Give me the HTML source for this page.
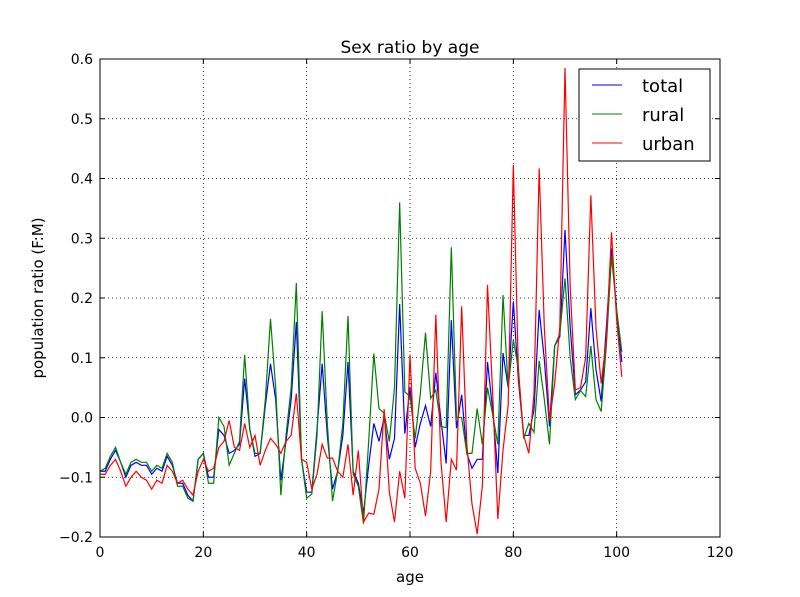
<!DOCTYPE html>
<html><head><meta charset="utf-8"><style>
body{margin:0;background:#fff}
svg{display:block;font-family:"DejaVu Sans","Liberation Sans",sans-serif}
</style></head><body>
<svg id="chart" width="800" height="597">
<rect width="800" height="597" fill="#fff"/>
<g id="grid"></g>
<g id="series"></g>
<rect x="100" y="59" width="620" height="478" fill="none" stroke="#000" stroke-width="1"/>
<g id="ticks"></g>
<text x="410" y="53" text-anchor="middle" font-size="17">Sex ratio by age</text>
<text x="410" y="582" text-anchor="middle" font-size="15">age</text>
<text transform="translate(43,298) rotate(-90)" text-anchor="middle" font-size="15">population ratio (F:M)</text>
<g>
<rect x="579" y="69" width="131" height="92" fill="#fff" stroke="#000"/>
<line x1="592" y1="85" x2="622" y2="85" stroke="blue"/>
<text x="642" y="92" font-size="18">total</text>
<line x1="592" y1="114" x2="622" y2="114" stroke="green"/>
<text x="642" y="121" font-size="18">rural</text>
<line x1="592" y1="143" x2="622" y2="143" stroke="red"/>
<text x="642" y="150" font-size="18">urban</text>
</g>
</svg>
<script>
const xTicks=[0,20,40,60,80,100,120];
const yTicks=[-0.2,-0.1,0.0,0.1,0.2,0.3,0.4,0.5,0.6];
const yTickLabels=["−0.2","−0.1","0.0","0.1","0.2","0.3","0.4","0.5","0.6"];
const total=[-0.09,-0.09,-0.07,-0.055,-0.075,-0.1,-0.08,-0.075,-0.08,-0.08,-0.095,-0.085,-0.09,-0.065,-0.08,-0.11,-0.11,-0.13,-0.14,-0.07,
-0.06,-0.1,-0.1,-0.02,-0.03,-0.06,-0.055,-0.045,0.065,-0.02,-0.065,-0.06,0.02,0.09,0.03,-0.105,-0.04,0.03,0.16,-0.07,
-0.125,-0.125,-0.02,0.09,-0.03,-0.12,-0.09,-0.03,0.093,-0.09,-0.11,-0.16,-0.08,-0.01,-0.04,0.0,-0.07,-0.035,0.19,-0.027,
0.05,-0.05,-0.01,0.02,-0.015,0.075,-0.005,-0.077,0.163,-0.018,0.038,-0.06,-0.085,-0.07,-0.07,0.093,0.013,-0.093,0.108,0.05,
0.194,0.06,-0.03,-0.03,0.013,0.18,0.097,-0.015,0.12,0.135,0.314,0.152,0.038,0.046,0.06,0.183,0.08,0.027,0.15,0.283,0.18,0.093];
const rural=[-0.09,-0.085,-0.065,-0.05,-0.075,-0.095,-0.075,-0.07,-0.075,-0.075,-0.09,-0.08,-0.085,-0.06,-0.075,-0.115,-0.115,-0.135,-0.14,-0.07,
-0.06,-0.11,-0.11,0.0,-0.015,-0.08,-0.06,-0.04,0.105,-0.02,-0.06,-0.06,0.03,0.165,0.05,-0.13,-0.03,0.05,0.225,-0.07,
-0.135,-0.128,-0.03,0.178,-0.01,-0.14,-0.09,-0.01,0.17,-0.095,-0.115,-0.178,-0.04,0.107,0.015,0.007,-0.04,0.05,0.36,0.043,
0.035,-0.035,0.04,0.142,0.032,0.046,-0.015,-0.017,0.285,0.0,0.0,-0.06,-0.06,0.015,-0.045,0.05,0.005,-0.045,0.205,0.05,
0.13,0.08,-0.035,-0.01,-0.025,0.095,0.03,-0.045,0.12,0.14,0.233,0.1,0.03,0.045,0.035,0.12,0.03,0.01,0.12,0.27,0.18,0.11];
const urban=[-0.095,-0.095,-0.08,-0.07,-0.09,-0.115,-0.1,-0.09,-0.1,-0.105,-0.12,-0.105,-0.11,-0.08,-0.09,-0.11,-0.105,-0.12,-0.13,-0.09,
-0.07,-0.09,-0.085,-0.05,-0.04,-0.005,-0.05,-0.055,-0.01,-0.05,-0.03,-0.08,-0.055,-0.035,-0.045,-0.06,-0.04,-0.03,0.04,-0.07,
-0.075,-0.12,-0.095,-0.045,-0.068,-0.068,-0.09,-0.1,-0.045,-0.13,-0.055,-0.175,-0.16,-0.162,-0.12,0.014,-0.125,-0.175,-0.09,-0.135,
0.105,-0.085,-0.11,-0.165,-0.09,0.172,-0.075,-0.175,-0.07,-0.088,0.186,-0.045,-0.145,-0.195,-0.115,0.222,0.04,-0.17,-0.055,0.02,
0.423,0.07,-0.03,-0.06,0.04,0.417,0.15,-0.005,0.057,0.152,0.585,0.22,0.046,0.05,0.1,0.372,0.15,0.057,0.13,0.31,0.163,0.068];
const X0=100,X1=720,Y0=537,Y1=59;
const xs=v=>X0+(v-0)/(120-0)*(X1-X0);
const ys=v=>Y0-(v+0.2)/(0.8)*(Y0-Y1);
const NS="http://www.w3.org/2000/svg";
const grid=document.getElementById('grid'),ticks=document.getElementById('ticks'),ser=document.getElementById('series');
function mk(tag,attrs,parent){const e=document.createElementNS(NS,tag);for(const k in attrs)e.setAttribute(k,attrs[k]);parent.appendChild(e);return e;}
xTicks.forEach(t=>{
  const x=xs(t);
  const g=mk('line',{x1:x,x2:x,y1:Y1,y2:Y0,stroke:'#000','stroke-dasharray':'1,3','stroke-width':0.8},grid);
  
  
  mk('line',{x1:x,x2:x,y1:Y0,y2:Y0-5,stroke:'#000'},ticks);
  mk('line',{x1:x,x2:x,y1:Y1,y2:Y1+5,stroke:'#000'},ticks);
  const l=mk('text',{x:x,y:557,'text-anchor':'middle','font-size':14},ticks);
  l.textContent=t;
  
  
});
yTicks.forEach((t,i)=>{
  const y=ys(t);
  const g=mk('line',{x1:X0,x2:X1,y1:y,y2:y,stroke:'#000','stroke-dasharray':'1,3','stroke-width':0.8},grid);
  
  
  mk('line',{x1:X0,x2:X0+5,y1:y,y2:y,stroke:'#000'},ticks);
  mk('line',{x1:X1,x2:X1-5,y1:y,y2:y,stroke:'#000'},ticks);
  const l=mk('text',{x:93,y:y+5,'text-anchor':'end','font-size':14},ticks);
  l.textContent=yTickLabels[i];
  
  
});
[[total,'blue','total-line'],[rural,'green','rural-line'],[urban,'red','urban-line']].forEach(([d,c,n])=>{
  const p=mk('polyline',{points:d.map((v,i)=>xs(i)+','+ys(v)).join(' '),fill:'none',stroke:c,'stroke-width':1.2},ser);
  
  
});
</script>
</body></html>
